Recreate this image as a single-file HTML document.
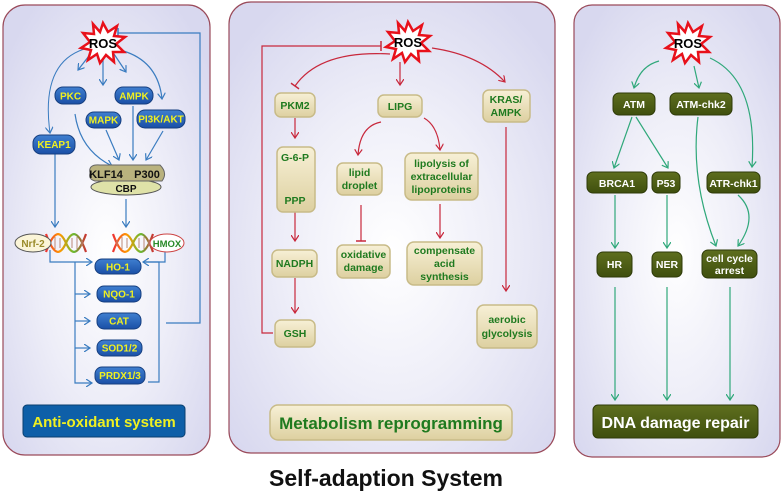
<!DOCTYPE html>
<html><head><meta charset="utf-8"><style>
html,body{margin:0;padding:0;background:#fff;}
svg{display:block;font-family:"Liberation Sans",Arial,sans-serif;font-weight:bold;}
</style></head><body>
<svg width="784" height="499" viewBox="0 0 784 499" xmlns="http://www.w3.org/2000/svg">
<defs>
<radialGradient id="pg" cx="50%" cy="55%" r="65%">
<stop offset="0" stop-color="#ffffff"/><stop offset="0.5" stop-color="#eeeef8"/><stop offset="1" stop-color="#d8d8ef"/>
</radialGradient>
<linearGradient id="bl" x1="0" y1="0" x2="0" y2="1"><stop offset="0" stop-color="#3f7fd0"/><stop offset="1" stop-color="#1a4fa6"/></linearGradient>
<linearGradient id="bg" x1="0" y1="0" x2="0" y2="1"><stop offset="0" stop-color="#f7f0d6"/><stop offset="1" stop-color="#ddd0a0"/></linearGradient>
<linearGradient id="gr" x1="0" y1="0" x2="0" y2="1"><stop offset="0" stop-color="#5e6e1e"/><stop offset="1" stop-color="#3f4f0e"/></linearGradient>
<linearGradient id="dna" gradientUnits="userSpaceOnUse" x1="0" y1="0" x2="40" y2="0" spreadMethod="reflect"><stop offset="0" stop-color="#e33"/><stop offset="0.35" stop-color="#f90"/><stop offset="0.7" stop-color="#6b3"/><stop offset="1" stop-color="#c33"/></linearGradient>
<marker id="ab" markerWidth="8" markerHeight="8" refX="6" refY="4" orient="auto" markerUnits="userSpaceOnUse"><path d="M0,0 L6,4 L0,8" fill="none" stroke="#3a7cc0" stroke-width="1.2"/></marker>
<marker id="ar" markerWidth="8" markerHeight="8" refX="6" refY="4" orient="auto" markerUnits="userSpaceOnUse"><path d="M0,0 L6,4 L0,8" fill="none" stroke="#c8283c" stroke-width="1.2"/></marker>
<marker id="ag" markerWidth="8" markerHeight="8" refX="6" refY="4" orient="auto" markerUnits="userSpaceOnUse"><path d="M0,0 L6,4 L0,8" fill="none" stroke="#2fa87a" stroke-width="1.2"/></marker>
<marker id="ak" markerWidth="6" markerHeight="6" refX="5" refY="3" orient="auto" markerUnits="userSpaceOnUse"><path d="M0,0 L5,3 L0,6 Z" fill="#333"/></marker>
<marker id="tr" markerWidth="2" markerHeight="10" refX="1" refY="5" orient="auto" markerUnits="userSpaceOnUse"><path d="M1,0 L1,10" stroke="#c8283c" stroke-width="1.5"/></marker>
<marker id="tb" markerWidth="2" markerHeight="10" refX="1" refY="5" orient="auto" markerUnits="userSpaceOnUse"><path d="M1,0 L1,10" stroke="#3a7cc0" stroke-width="1.5"/></marker>
<g id="star"><polygon points="0,-20 5,-11 14,-17 11,-7 22,-6 13,1 21,9 10,9 11,19 3,12 -3,20 -6,11 -15,17 -12,7 -22,5 -13,-1 -20,-10 -9,-9 -10,-19 -3,-11" fill="#fff" stroke="#e8101a" stroke-width="2.5"/>
<text x="0" y="5" font-size="13" text-anchor="middle" fill="#000">ROS</text></g>
<g id="helix" fill="none" stroke-width="2.2">
<path d="M0,18 C8,-4 14,-4 20,9 C26,22 32,22 40,0" stroke="url(#dna)"/>
<path d="M0,0 C8,22 14,22 20,9 C26,-4 32,-4 40,18" stroke="url(#dna)"/>
<path d="M4,6 L4,12 M9,3 L9,15 M14,4 L14,14 M26,4 L26,14 M31,3 L31,15 M36,6 L36,12" stroke="#b87" stroke-width="1"/>
</g>
</defs>

<rect x="3" y="5" width="207" height="450" rx="22" fill="url(#pg)" stroke="#9a4a5a" stroke-width="1.2"/>
<rect x="229" y="2" width="326" height="451" rx="22" fill="url(#pg)" stroke="#9a4a5a" stroke-width="1.2"/>
<rect x="574" y="5" width="206" height="452" rx="18" fill="url(#pg)" stroke="#9a4a5a" stroke-width="1.2"/>

<!-- LEFT -->
<g fill="none" stroke="#3a7cc0" stroke-width="1.2">
<path d="M88,48 Q40,60 50,133" marker-end="url(#ab)" stroke-width="1"/>
<path d="M92,52 L78,70" marker-end="url(#ab)"/>
<path d="M103,58 L103,85" marker-end="url(#ab)"/>
<path d="M114,54 L126,72" marker-end="url(#ab)"/>
<path d="M120,50 Q158,60 162,99" marker-end="url(#ab)"/>
<path d="M75,114 Q80,150 112,166" marker-end="url(#ab)"/>
<path d="M106,130 L119,160" marker-end="url(#ab)"/>
<path d="M133,106 L133,160" marker-end="url(#ab)"/>
<path d="M163,131 L146,160" marker-end="url(#ab)"/>
<path d="M55,154 L55,227" marker-end="url(#ab)"/>
<path d="M126,199 L126,227" marker-end="url(#ab)"/>
<path d="M50,250 L50,262 L92,262" marker-end="url(#ab)"/>
<path d="M75,262 L75,383 L92,383" marker-end="url(#ab)"/>
<path d="M75,294 L90,294" marker-end="url(#ab)"/>
<path d="M75,321 L90,321" marker-end="url(#ab)"/>
<path d="M75,348 L90,348" marker-end="url(#ab)"/>
<path d="M165,248 L165,262 L143,262" marker-end="url(#ab)"/>
<path d="M148,382 L159,382 L159,262 L143,262"/>
<path d="M166,323 L200,323 L200,33 L118,33" marker-end="url(#tb)"/>
</g>
<use href="#star" x="103" y="43"/>
<g fill="url(#bl)" stroke="#163f80" stroke-width="1">
<rect x="55" y="87" width="31" height="17" rx="8"/>
<rect x="115" y="87" width="38" height="17" rx="8"/>
<rect x="86" y="112" width="35" height="16" rx="8"/>
<rect x="137" y="110" width="48" height="18" rx="8"/>
<rect x="33" y="135" width="42" height="19" rx="8"/>
<rect x="95" y="259" width="46" height="15" rx="7"/>
<rect x="97" y="286" width="44" height="16" rx="7"/>
<rect x="97" y="313" width="44" height="16" rx="7"/>
<rect x="97" y="340" width="45" height="16" rx="7"/>
<rect x="95" y="367" width="50" height="17" rx="7"/>
</g>
<g fill="#f0f020" font-size="10" text-anchor="middle">
<text x="70.5" y="99.5">PKC</text><text x="134" y="99.5">AMPK</text>
<text x="103.5" y="123.5">MAPK</text><text x="161" y="122.5">PI3K/AKT</text>
<text x="54" y="148">KEAP1</text>
<text x="118" y="270.5">HO-1</text><text x="119" y="297.5">NQO-1</text>
<text x="119" y="324.5">CAT</text><text x="119.5" y="351.5">SOD1/2</text><text x="120" y="379">PRDX1/3</text>
</g>
<ellipse cx="126" cy="187" rx="35" ry="8" fill="#dfe2a8" stroke="#555" stroke-width="1"/>
<path d="M90,173 Q88,164 100,165 L160,165 Q168,173 162,181 L95,181 Q88,179 90,173Z" fill="#b9b27e" stroke="#666"/>
<text x="106" y="178" font-size="11" text-anchor="middle" fill="#111">KLF14</text>
<text x="147" y="178" font-size="11" text-anchor="middle" fill="#111">P300</text>
<text x="126" y="192" font-size="10" text-anchor="middle" fill="#111">CBP</text>
<use href="#helix" x="46" y="234"/>
<use href="#helix" x="113" y="234"/>
<ellipse cx="33" cy="243" rx="18" ry="9" fill="#fbf5d8" stroke="#555"/>
<text x="33" y="247" font-size="10" text-anchor="middle" fill="#9a8b2a">Nrf-2</text>
<ellipse cx="167" cy="243" rx="17" ry="9" fill="#fff" stroke="#c44"/>
<text x="167" y="247" font-size="9.5" text-anchor="middle" fill="#2a8a2a">HMOX</text>
<rect x="23" y="405" width="162" height="32" rx="4" fill="#0e5fa8" stroke="#0a3f70"/>
<text x="104" y="427" font-size="15" text-anchor="middle" fill="#f0f020">Anti-oxidant system</text>

<!-- MIDDLE -->
<g fill="none" stroke="#c8283c" stroke-width="1.2">
<path d="M390,54 Q320,50 295,86" marker-end="url(#tr)"/>
<path d="M400,62 L400,85" marker-end="url(#ar)"/>
<path d="M432,48 Q480,55 505,82" marker-end="url(#ar)"/>
<path d="M295,118 L295,138" marker-end="url(#ar)"/>
<path d="M295,212 L295,241" marker-end="url(#ar)"/>
<path d="M295,278 L295,313" marker-end="url(#ar)"/>
<path d="M273,333 L262,333 L262,46 L381,46" marker-end="url(#tr)"/>
<path d="M381,122 Q360,126 358,155" marker-end="url(#ar)"/>
<path d="M424,118 Q438,126 440,150" marker-end="url(#ar)"/>
<path d="M361,205 L361,241" marker-end="url(#tr)"/>
<path d="M440,204 L440,238" marker-end="url(#ar)"/>
<path d="M506,127 L506,291" marker-end="url(#ar)"/>
</g>
<path d="M295,164 L295,186" stroke="#333" stroke-width="1" marker-end="url(#ak)"/>
<use href="#star" x="408" y="42"/>
<g fill="url(#bg)" stroke="#c8bb88" stroke-width="1.5">
<rect x="275" y="93" width="40" height="24" rx="6"/>
<rect x="378" y="95" width="44" height="22" rx="6"/>
<rect x="483" y="90" width="47" height="32" rx="6"/>
<rect x="277" y="147" width="38" height="65" rx="6"/>
<rect x="272" y="250" width="45" height="27" rx="6"/>
<rect x="275" y="320" width="40" height="27" rx="6"/>
<rect x="337" y="163" width="45" height="32" rx="6"/>
<rect x="405" y="153" width="73" height="47" rx="7"/>
<rect x="337" y="245" width="53" height="33" rx="6"/>
<rect x="407" y="242" width="75" height="43" rx="7"/>
<rect x="477" y="305" width="60" height="43" rx="7"/>
<rect x="270" y="405" width="242" height="35" rx="8"/>
</g>
<g fill="#1f7a1f" font-size="10.5" text-anchor="middle">
<text x="295" y="109">PKM2</text><text x="400" y="110">LIPG</text>
<text x="506" y="103">KRAS/</text><text x="506" y="116">AMPK</text>
<text x="295" y="161">G-6-P</text><text x="295" y="204">PPP</text>
<text x="294.5" y="267">NADPH</text><text x="295" y="337">GSH</text>
<text x="359.5" y="176">lipid</text><text x="359.5" y="189">droplet</text>
<text x="441.5" y="167">lipolysis of</text><text x="441.5" y="180">extracellular</text><text x="441.5" y="193">lipoproteins</text>
<text x="363.5" y="258">oxidative</text><text x="363.5" y="271">damage</text>
<text x="444.5" y="254">compensate</text><text x="444.5" y="267">acid</text><text x="444.5" y="280">synthesis</text>
<text x="507" y="323">aerobic</text><text x="507" y="337">glycolysis</text>
<text x="391" y="429" font-size="17">Metabolism reprogramming</text>
</g>

<!-- RIGHT -->
<g fill="none" stroke="#2fa87a" stroke-width="1.2">
<path d="M659,61 Q640,66 634,88" marker-end="url(#ag)"/>
<path d="M694,66 L699,88" marker-end="url(#ag)"/>
<path d="M710,58 Q758,80 752,167" marker-end="url(#ag)"/>
<path d="M632,117 L614,168" marker-end="url(#ag)"/>
<path d="M636,117 L668,168" marker-end="url(#ag)"/>
<path d="M698,117 Q690,180 716,246" marker-end="url(#ag)"/>
<path d="M738,195 Q760,215 738,246" marker-end="url(#ag)"/>
<path d="M615,195 L615,248" marker-end="url(#ag)"/>
<path d="M667,195 L667,248" marker-end="url(#ag)"/>
<path d="M615,287 L615,400" marker-end="url(#ag)"/>
<path d="M667,287 L667,400" marker-end="url(#ag)"/>
<path d="M730,287 L730,400" marker-end="url(#ag)"/>
</g>
<use href="#star" x="688" y="43"/>
<g fill="url(#gr)" stroke="#2e3a08" stroke-width="1">
<rect x="613" y="93" width="42" height="22" rx="6"/>
<rect x="670" y="93" width="62" height="22" rx="6"/>
<rect x="587" y="172" width="60" height="21" rx="6"/>
<rect x="652" y="172" width="28" height="21" rx="6"/>
<rect x="707" y="172" width="53" height="21" rx="6"/>
<rect x="597" y="252" width="35" height="25" rx="6"/>
<rect x="652" y="252" width="30" height="25" rx="6"/>
<rect x="702" y="250" width="55" height="28" rx="6"/>
<rect x="593" y="405" width="165" height="33" rx="5"/>
</g>
<g fill="#fff" font-size="10.5" text-anchor="middle">
<text x="634" y="108">ATM</text><text x="701" y="108">ATM-chk2</text>
<text x="617" y="187">BRCA1</text><text x="666" y="187">P53</text><text x="733.5" y="187">ATR-chk1</text>
<text x="614.5" y="268">HR</text><text x="667" y="268">NER</text>
<text x="729.5" y="262">cell cycle</text><text x="729.5" y="274">arrest</text>
<text x="675.5" y="428" font-size="16">DNA damage repair</text>
</g>

<text x="386" y="486" font-size="23" text-anchor="middle" fill="#111">Self-adaption System</text>
</svg>
</body></html>
